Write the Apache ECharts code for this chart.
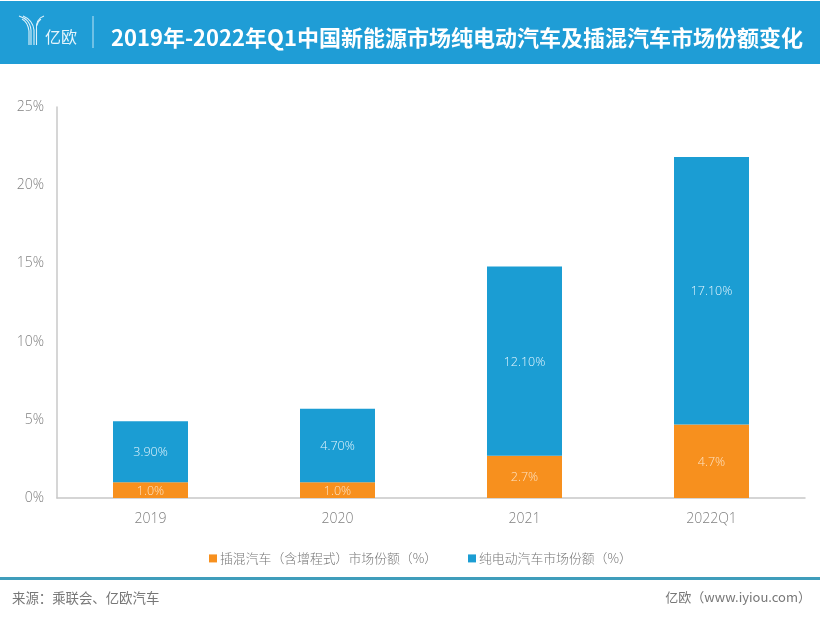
<!DOCTYPE html>
<html>
<head>
<meta charset="utf-8">
<title>新能源市场份额</title>
<script src="https://cdn.jsdelivr.net/npm/echarts@6/dist/echarts.min.js"></script>
<style>
html,body{margin:0;padding:0;background:#fff;}
#main{width:820px;height:633px;}
</style>
</head>
<body>
<div id="main"></div>
<script>
var categories=['2019','2020','2021','2022Q1'];
var phevShare=[1.0,1.0,2.7,4.7];
var bevShare=[3.9,4.7,12.1,17.1];
var phevName='插混汽车（含增程式）市场份额（%）';
var bevName='纯电动汽车市场份额（%）';
var titleText='2019年-2022年Q1中国新能源市场纯电动汽车及插混汽车市场份额变化';
var sourceText='来源：乘联会、亿欧汽车';
var brandText='亿欧（www.iyiou.com）';

var fontName='"Open Sans","Noto Sans CJK SC",sans-serif';
var cjkFont='"Noto Sans CJK SC",sans-serif';

// logo strokes
function logoCurve(x1,y1,cx1,cy1,cx2,cy2,x2,y2){
	return {type:'bezierCurve',z:5,
		shape:{x1:x1,y1:y1,cpx1:cx1,cpy1:cy1,cpx2:cx2,cpy2:cy2,x2:x2,y2:y2},
		style:{fill:null,stroke:'#dff2fb',lineWidth:1.1}};
}

var chart=echarts.init(document.getElementById('main'));
var option={
	animation:false,
	backgroundColor:'#fff',
	textStyle:{fontFamily:fontName},
	title:{
		text:titleText,
		left:106,
		top:22,
		textStyle:{color:'#fff',fontFamily:cjkFont,fontWeight:'bold',fontSize:22}
	},
	grid:{left:57,right:15,top:107,bottom:135},
	legend:{
		data:[phevName,bevName],
		left:204,
		top:547,
		icon:'rect',
		itemWidth:8,
		itemHeight:8,
		itemGap:31,
		itemStyle:{borderWidth:0},
		textStyle:{color:'#777',fontSize:12.85,fontWeight:300,fontFamily:cjkFont,padding:[0,0,0,-2]}
	},
	xAxis:{
		type:'category',
		data:categories,
		axisLine:{lineStyle:{color:'#c8c8c8',width:1.5}},
		axisTick:{show:false},
		axisLabel:{color:'#808080',fontSize:14,fontWeight:300,margin:14}
	},
	yAxis:{
		type:'value',
		min:0,
		max:25,
		interval:5,
		axisLine:{show:true,lineStyle:{color:'#c8c8c8',width:1.5}},
		axisTick:{show:false},
		splitLine:{show:false},
		axisLabel:{color:'#808080',fontSize:14,fontWeight:300,margin:13,formatter:'{value}%'}
	},
	series:[
		{
			name:phevName,
			type:'bar',
			stack:'share',
			barWidth:75,
			data:phevShare,
			itemStyle:{color:'#f7901e'},
			label:{show:true,position:'inside',offset:[0,1],color:'#fde3c4',fontSize:12.5,fontWeight:300,
				formatter:function(p){return p.value.toFixed(1)+'%';}}
		},
		{
			name:bevName,
			type:'bar',
			stack:'share',
			barWidth:75,
			data:bevShare,
			itemStyle:{color:'#1b9dd3'},
			label:{show:true,position:'inside',offset:[0,1],color:'#e4f5fd',fontSize:12.5,fontWeight:300,
				formatter:function(p){return p.value.toFixed(2)+'%';}}
		}
	],
	graphic:[
		{type:'rect',z:-1,shape:{x:0,y:1,width:820,height:63},style:{fill:'#1f9dd6'}},
		logoCurve(19,16,25,18,30,21,31,30),
		logoCurve(22,19,26,21,28,24,29,31),
		logoCurve(23,16,28,18,33,22,34,30),
		logoCurve(44,16,38,18,36,22,36.5,30),
		logoCurve(41,19,38,21,37,24,36.5,26),
		{type:'line',z:5,shape:{x1:29,y1:31,x2:29,y2:45},style:{stroke:'#dff2fb',lineWidth:1.1}},
		{type:'line',z:5,shape:{x1:31,y1:30,x2:31,y2:45},style:{stroke:'#dff2fb',lineWidth:1.1}},
		{type:'line',z:5,shape:{x1:34,y1:30,x2:34,y2:45},style:{stroke:'#dff2fb',lineWidth:1.1}},
		{type:'line',z:5,shape:{x1:36.5,y1:30,x2:36.5,y2:45},style:{stroke:'#dff2fb',lineWidth:1.1}},
		{type:'text',z:5,x:45,y:29,style:{text:'亿欧',fill:'#e6f5fc',font:'16px '+cjkFont}},
		{type:'line',z:5,shape:{x1:93,y1:16,x2:93,y2:48},style:{stroke:'#bfe4f5',lineWidth:1}},
		// footer
		{type:'rect',z:5,shape:{x:0,y:577,width:820,height:3},style:{fill:'#3f9dbb'}},
		{type:'text',z:5,x:12,y:591,style:{text:sourceText,fill:'#777',font:'13.4px '+cjkFont}},
		{type:'text',z:5,right:9,y:591,style:{text:brandText,fill:'#777',font:'13px '+cjkFont}}
	]
};
chart.setOption(option);
</script>
</body>
</html>
